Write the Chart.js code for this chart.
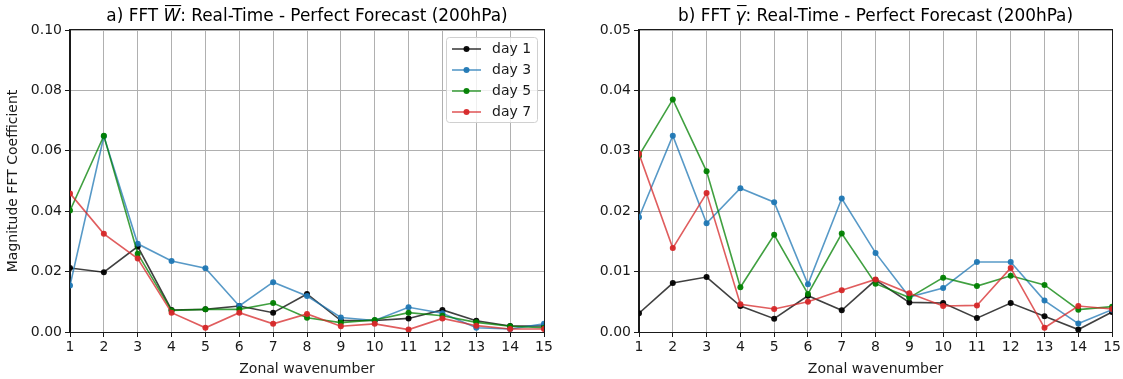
<!DOCTYPE html>
<html><head><meta charset="utf-8">
<script src="https://cdn.jsdelivr.net/npm/chart.js@4.4.1/dist/chart.umd.min.js"></script>
<style>
html,body{margin:0;padding:0;background:#fff;}
#wrap{position:relative;width:1123px;height:379px;overflow:hidden;}
.box{position:absolute;top:0;height:379px;}
</style></head><body>
<div id="wrap">
<div class="box" style="left:0;width:561px"><canvas id="c1"></canvas></div>
<div class="box" style="left:561px;width:562px"><canvas id="c2"></canvas></div>
</div>
<script>
// ---------------- data ----------------
const wavenumbers = [1,2,3,4,5,6,7,8,9,10,11,12,13,14,15];
const seriesLabels = ['day 1','day 3','day 5','day 7'];

// a) FFT W-bar
const W_day1 = [0.0212,0.0198,0.0283,0.0073,0.0075,0.0086,0.0064,0.0126,0.0038,0.0038,0.0045,0.0073,0.0037,0.0020,0.0020];
const W_day3 = [0.0154,0.0648,0.0292,0.0235,0.0211,0.0086,0.0165,0.0119,0.0048,0.0038,0.0082,0.0062,0.0014,0.0010,0.0027];
const W_day5 = [0.0402,0.0650,0.0259,0.0071,0.0075,0.0075,0.0096,0.0047,0.0031,0.0040,0.0064,0.0054,0.0032,0.0019,0.0014];
const W_day7 = [0.0459,0.0325,0.0243,0.0064,0.0014,0.0064,0.0027,0.0060,0.0019,0.0027,0.0008,0.0045,0.0021,0.0010,0.0010];

// b) FFT gamma-bar
const G_day1 = [0.0031,0.0081,0.0091,0.0043,0.0022,0.0060,0.0036,0.0086,0.0049,0.0048,0.0023,0.0048,0.0026,0.0004,0.0033];
const G_day3 = [0.0190,0.0325,0.0180,0.0238,0.0215,0.0079,0.0221,0.0131,0.0058,0.0073,0.0116,0.0116,0.0052,0.0014,0.0037];
const G_day5 = [0.0292,0.0385,0.0266,0.0074,0.0161,0.0063,0.0163,0.0080,0.0057,0.0090,0.0076,0.0093,0.0078,0.0037,0.0042];
const G_day7 = [0.0295,0.0139,0.0230,0.0046,0.0038,0.0050,0.0069,0.0087,0.0064,0.0043,0.0044,0.0106,0.0007,0.0043,0.0038];

// tick labels
const W_yTicks = [0,0.02,0.04,0.06,0.08,0.10];
const G_yTicks = [0,0.01,0.02,0.03,0.04,0.05];
const xTicks = [1,2,3,4,5,6,7,8,9,10,11,12,13,14,15];

// text
const titleA = ['a) FFT ', 'W', ': Real-Time - Perfect Forecast (200hPa)'];
const titleB = ['b) FFT ', 'γ', ': Real-Time - Perfect Forecast (200hPa)'];
const yLabel = 'Magnitude FFT Coefficient';
const xLabel = 'Zonal wavenumber';

// ---------------- styling ----------------
const FONT = 'DejaVu Sans';
const TXT = 14;
const lineColors = ['rgba(0,0,0,0.75)','rgba(31,119,180,0.75)','rgba(0,128,0,0.75)','rgba(214,39,40,0.75)'];
const pointColors = ['rgba(0,0,0,0.95)','rgba(31,119,180,0.95)','rgba(0,128,0,0.95)','rgba(214,39,40,0.95)'];

function makeDatasets(series) {
  return series.map((vals, i) => ({
    label: seriesLabels[i],
    data: wavenumbers.map((w, j) => ({x: w, y: vals[j]})),
    borderColor: lineColors[i],
    backgroundColor: pointColors[i],
    pointBackgroundColor: pointColors[i],
    pointBorderColor: pointColors[i],
    borderWidth: 1.6,
    pointRadius: 3,
    pointBorderWidth: 0,
    tension: 0,
    order: 3 - i
  }));
}

const framePlugin = {
  id: 'frame',
  afterDatasetsDraw(chart) {
    const {ctx, chartArea: a} = chart;
    ctx.save();
    ctx.strokeStyle = '#1a1a1a';
    ctx.lineWidth = 1;
    ctx.strokeRect(Math.round(a.left) - 0.5, Math.round(a.top) - 0.5, Math.round(a.right - a.left) + 1, Math.round(a.bottom - a.top) + 1);
    ctx.restore();
  }
};

const titlePlugin = {
  id: 'mtitle',
  afterDraw(chart, args, opts) {
    const parts = opts.parts;
    if (!parts) return;
    const {ctx, chartArea: a} = chart;
    ctx.save();
    const size = 16.9;
    const normal = size + 'px "' + FONT + '"';
    const ital = 'oblique ' + size + 'px "' + FONT + '"';
    ctx.font = normal; const w0 = ctx.measureText(parts[0]).width;
    ctx.font = ital; const w1 = ctx.measureText(parts[1]).width;
    ctx.font = normal; const w2 = ctx.measureText(parts[2]).width;
    let x = (a.left + a.right) / 2 - (w0 + w1 + w2) / 2;
    const base = 21;
    ctx.fillStyle = '#000';
    ctx.textBaseline = 'alphabetic';
    ctx.textAlign = 'left';
    ctx.font = normal; ctx.fillText(parts[0], x, base); x += w0;
    ctx.font = ital; ctx.fillText(parts[1], x, base);
    ctx.fillRect(x + 1.5, 5, w1 - 0.5, 1.1);
    x += w1;
    ctx.font = normal; ctx.fillText(parts[2], x, base);
    ctx.restore();
  }
};

const legendPlugin = {
  id: 'mlegend',
  afterDraw(chart, args, opts) {
    if (!opts.show) return;
    const {ctx} = chart;
    const bx = 446, by = 37, bw = 91, bh = 85;
    ctx.save();
    ctx.beginPath();
    if (ctx.roundRect) ctx.roundRect(bx + 0.5, by + 0.5, bw, bh, 3); else ctx.rect(bx + 0.5, by + 0.5, bw, bh);
    ctx.fillStyle = 'rgba(255,255,255,0.8)';
    ctx.fill();
    ctx.strokeStyle = '#d0d0d0';
    ctx.lineWidth = 1;
    ctx.stroke();
    ctx.font = TXT + 'px "' + FONT + '"';
    ctx.textBaseline = 'middle';
    ctx.textAlign = 'left';
    chart.data.datasets.forEach((ds, i) => {
      const y = 49 + i * 21;
      ctx.strokeStyle = ds.borderColor;
      ctx.lineWidth = 1.6;
      ctx.beginPath(); ctx.moveTo(452, y); ctx.lineTo(481, y); ctx.stroke();
      ctx.fillStyle = ds.pointBackgroundColor;
      ctx.beginPath(); ctx.arc(466.5, y, 3, 0, Math.PI * 2); ctx.fill();
      ctx.fillStyle = '#1a1a1a';
      ctx.fillText(ds.label, 492, y + 0.5);
    });
    ctx.restore();
  }
};

function makeChart(id, series, yTicks, yMax, yAxisWidth, padRight, parts, showLegend, showYLabel) {
  return new Chart(document.getElementById(id), {
    type: 'line',
    data: {datasets: makeDatasets(series)},
    plugins: [framePlugin, titlePlugin, legendPlugin],
    options: {
      responsive: true,
      maintainAspectRatio: false,
      animation: false,
      devicePixelRatio: 1,
      layout: {padding: {left: 0, right: padRight, top: 30, bottom: 0}},
      plugins: {
        legend: {display: false},
        tooltip: {enabled: false},
        title: {display: false},
        mtitle: {parts: parts},
        mlegend: {show: showLegend}
      },
      scales: {
        x: {
          type: 'linear', min: 1, max: 15,
          afterBuildTicks: s => { s.ticks = xTicks.map(v => ({value: v})); },
          afterFit: s => { s.height = 47; },
          ticks: {font: {family: FONT, size: TXT}, color: '#1a1a1a', padding: 2, maxRotation: 0, autoSkip: false,
                  callback: v => String(v)},
          grid: {color: '#b0b0b0', lineWidth: 1, tickLength: 5, tickColor: '#1a1a1a', drawTicks: true},
          border: {color: '#1a1a1a', width: 1},
          title: {display: true, text: xLabel, font: {family: FONT, size: TXT}, color: '#1a1a1a', padding: {top: 0, bottom: 1}}
        },
        y: {
          type: 'linear', min: 0, max: yMax,
          afterBuildTicks: s => { s.ticks = yTicks.map(v => ({value: v})); },
          afterFit: s => { s.width = yAxisWidth; },
          ticks: {font: {family: FONT, size: TXT}, color: '#1a1a1a', padding: 3, autoSkip: false,
                  callback: v => Number(v).toFixed(2)},
          grid: {color: '#b0b0b0', lineWidth: 1, tickLength: 5, tickColor: '#1a1a1a', drawTicks: true},
          border: {color: '#1a1a1a', width: 1},
          title: {display: showYLabel, text: yLabel, font: {family: FONT, size: TXT}, color: '#1a1a1a', padding: {top: 5, bottom: 0}}
        }
      }
    }
  });
}

makeChart('c1', [W_day1, W_day3, W_day5, W_day7], W_yTicks, 0.10, 70, 17, titleA, true, true);
makeChart('c2', [G_day1, G_day3, G_day5, G_day7], G_yTicks, 0.05, 78, 10, titleB, false, false);
</script>
</body></html>
